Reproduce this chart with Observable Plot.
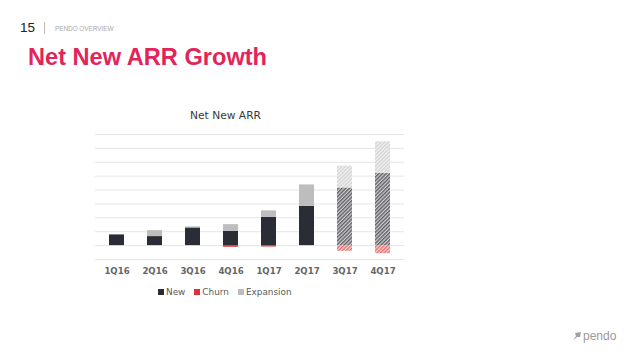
<!DOCTYPE html>
<html>
<head>
<meta charset="utf-8">
<script src="https://cdn.jsdelivr.net/npm/d3@7"></script>
<script src="https://cdn.jsdelivr.net/npm/@observablehq/plot@0.6"></script>
<style>
  html, body { margin: 0; padding: 0; background: #fff; }
  #page { position: relative; width: 638px; height: 359px; overflow: hidden; font-family: "Liberation Sans", Arial, sans-serif; }
  #chart { position: absolute; left: 0; top: 0; }
  .abs { position: absolute; white-space: nowrap; }
  #num { left: 20px; top: 20px; font-size: 13.5px; color: #222; }
  #sep { left: 44px; top: 22px; width: 1px; height: 12px; background: #bbb; }
  #sec { left: 55px; top: 25px; font-size: 6.5px; color: #aaa; letter-spacing: -0.1px; }
  #title { left: 28px; top: 44px; font-size: 23.6px; font-weight: bold; color: #e2245a; }
  #ctitle { left: 0; width: 451px; top: 109px; text-align: center; font-family: "DejaVu Sans", sans-serif; font-size: 10.7px; color: #3a3a3a; }
  #legend { left: 158px; top: 287px; font-family: "DejaVu Sans", sans-serif; font-size: 8.9px; color: #5a5a5a; display: flex; align-items: center; }
  #legend .sw { display: inline-block; width: 6px; height: 6px; margin-right: 2px; }
  #legend .it { display: inline-flex; align-items: center; margin-right: 9px; }
  #logo { left: 572px; top: 329px; font-size: 12px; color: #9a9a9a; display: flex; align-items: center; }
</style>
</head>
<body>
<div id="page">
  <div id="chart"></div>
  <div class="abs" id="num">15</div>
  <div class="abs" id="sep"></div>
  <div class="abs" id="sec">PENDO OVERVIEW</div>
  <div class="abs" id="title">Net New ARR Growth</div>
  <div class="abs" id="ctitle">Net New ARR</div>
  <div class="abs" id="legend"></div>
  <div class="abs" id="logo"><svg width="10" height="10" viewBox="0 0 10 10" style="margin-right:1px"><path d="M1 9 L4 5 L3 2 L9 1 L8 6 L5 6 Z" fill="#a0a0a0"/></svg>pendo</div>
</div>
<script>
// ---- data (values in arbitrary ARR units) ----
const quarters = ["1Q16", "2Q16", "3Q16", "4Q16", "1Q17", "2Q17", "3Q17", "4Q17"];
const newValues = [0.77, 0.65, 1.27, 1.03, 2.04, 2.83, 4.15, 5.2];
const expansionValues = [0, 0.43, 0.08, 0.48, 0.46, 1.54, 1.58, 2.28];
const churnValues = [0, 0, 0, -0.12, -0.1, 0, -0.41, -0.58];
const projected = ["3Q17", "4Q17"];
const seriesNames = ["New", "Churn", "Expansion"];
const gridTicks = [-1, 0, 1, 2, 3, 4, 5, 6, 7, 8];

const rows = [];
quarters.forEach((q, i) => {
  const p = projected.includes(q);
  rows.push({q, key: p ? "New (proj)" : "New", v: newValues[i]});
  rows.push({q, key: p ? "Expansion (proj)" : "Expansion", v: expansionValues[i]});
  rows.push({q, key: p ? "Churn (proj)" : "Churn", v: churnValues[i]});
});

const solid = {New: "#2a2c36", Churn: "#e0303c", Expansion: "#bdbdbd"};

const chart = Plot.plot({
  width: 638,
  height: 359,
  marginLeft: 95,
  marginRight: 234,
  marginTop: 134,
  marginBottom: 100,
  style: {fontFamily: "'DejaVu Sans', sans-serif", background: "transparent"},
  x: {domain: quarters, paddingInner: 0.6, paddingOuter: 0.3, label: null},
  y: {domain: [-1, 8], axis: null},
  color: {
    domain: ["New", "Expansion", "Churn", "New (proj)", "Expansion (proj)", "Churn (proj)"],
    range: [solid.New, solid.Expansion, solid.Churn, "url(#hNew)", "url(#hExp)", "url(#hChurn)"]
  },
  marks: [
    Plot.ruleY(gridTicks, {stroke: "#e6e6e6", strokeWidth: 1}),
    Plot.barY(rows, Plot.stackY({x: "q", y: "v", fill: "key", z: "key"})),
    Plot.axisX({tickSize: 0, tickPadding: 8, fontSize: 8.6, fontWeight: "bold", fill: "#666", label: null})
  ]
});
document.getElementById("chart").appendChild(chart);

// hatch patterns for projected quarters
const svg = d3.select(chart);
const defs = svg.insert("defs", ":first-child");
function hatch(id, bg, fg, w) {
  const p = defs.append("pattern").attr("id", id).attr("patternUnits", "userSpaceOnUse")
    .attr("width", 2.6).attr("height", 2.6).attr("patternTransform", "rotate(45)");
  p.append("rect").attr("width", 2.6).attr("height", 2.6).attr("fill", bg);
  p.append("rect").attr("width", w).attr("height", 2.6).attr("fill", fg);
}
hatch("hNew", "#cdcdcd", "#5c5c62", 1.3);
hatch("hExp", "#f2f2f2", "#d2d2d2", 1.3);
hatch("hChurn", "#fbd2d2", "#e66a6a", 1.3);

// legend
const leg = d3.select("#legend");
seriesNames.forEach(s => {
  const it = leg.append("span").attr("class", "it");
  it.append("span").attr("class", "sw").style("background", solid[s]);
  it.append("span").text(s);
});
</script>
</body>
</html>
